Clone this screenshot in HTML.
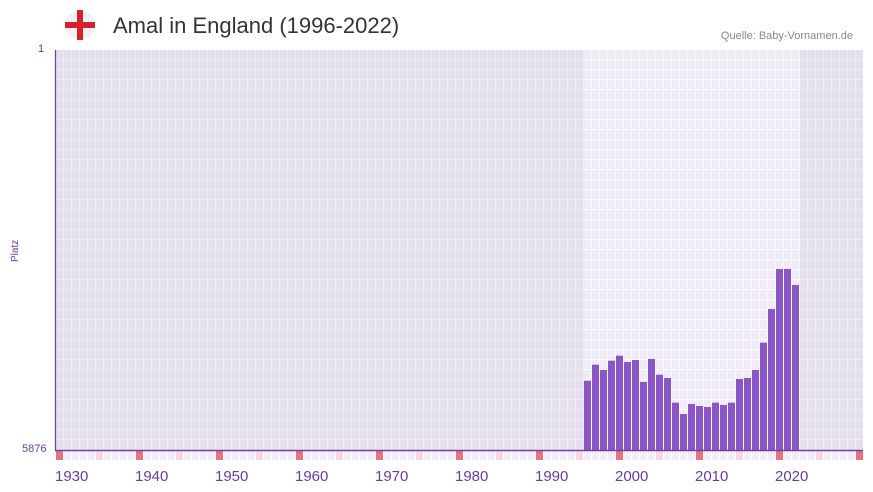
<!DOCTYPE html><html><head><meta charset="utf-8"><style>
body{margin:0;width:873px;height:492px;background:#fff;font-family:"Liberation Sans",sans-serif;overflow:hidden;position:relative}
.t{position:absolute;white-space:nowrap}
</style></head><body>
<svg width="873" height="492" style="position:absolute;left:0;top:0">
<defs>
<pattern id="g" x="56" y="50" width="8" height="10" patternUnits="userSpaceOnUse"><rect width="8" height="10" fill="#e3dfec"/><rect x="7" width="1" height="10" fill="#eeebf3"/><rect y="9" width="8" height="1" fill="#eeebf3"/></pattern>
<pattern id="h" x="56" y="50" width="8" height="10" patternUnits="userSpaceOnUse"><rect width="8" height="10" fill="#efebf8"/><rect x="7" width="1" height="10" fill="#fbfaff"/><rect y="9" width="8" height="1" fill="#fbfaff"/></pattern>
</defs>
<rect x="56" y="50" width="807" height="400" fill="url(#g)"/>
<rect x="584" y="50" width="216" height="400" fill="url(#h)"/>
<g id="bars" fill="#8b55c7"></g>
<g id="sq"></g>
<line x1="55.5" y1="50" x2="55.5" y2="451" stroke="#7040a8" stroke-width="1.2"/>
<line x1="55" y1="450.5" x2="863" y2="450.5" stroke="#7040a8" stroke-width="1.5"/>
<circle cx="80" cy="25" r="15" fill="#f2f2f2"/>
<rect x="77" y="10" width="6" height="30" fill="#d5202e"/>
<rect x="65" y="22" width="30" height="6" fill="#d5202e"/>
<text x="0" y="0" transform="translate(18,262) rotate(-90)" font-size="10" fill="#6a3aa0" font-family="Liberation Sans">Platz</text>
</svg>
<div class="t" style="left:113px;top:13px;font-size:22px;color:#333">Amal in England (1996-2022)</div>
<div class="t" style="right:20px;top:30px;font-size:11px;color:#888">Quelle: Baby-Vornamen.de</div>
<div class="t" style="left:38px;top:43px;font-size:11px;color:#6a3aa0">1</div>
<div class="t" style="left:22px;top:443px;font-size:11px;color:#6a3aa0">5876</div>
<div id="lb"></div>
<script>
var tops=[380.7,364.7,370,360.7,355.7,362,360,382,359,374.7,378,402.7,414,404,406,407,402.7,405,402.7,379,378,370,342.7,309,269,269,285];
var s='';tops.forEach(function(t,i){var x=56+(1996+i-1930)*8;s+='<rect x="'+x+'" y="'+t+'" width="7" height="'+(450-t)+'"/>';});
document.getElementById('bars').innerHTML=s;
var q='';for(var y=1930;y<=2030;y++){var x=56+(y-1930)*8;if(x>856)break;var c=(y%10==0)?'#e8717d':(y%5==0?'#f6d8e0':'#f1ecf8');q+='<rect x="'+x+'" y="451" width="7" height="9" fill="'+c+'"/>';}
document.getElementById('sq').innerHTML=q;
var l='';for(var y=1930;y<=2020;y+=10){l+='<div class="t" style="left:'+(55+(y-1930)*8)+'px;top:468px;font-size:15px;color:#6a3aa0">'+y+'</div>';}
document.getElementById('lb').innerHTML=l;
</script>
</body></html>
